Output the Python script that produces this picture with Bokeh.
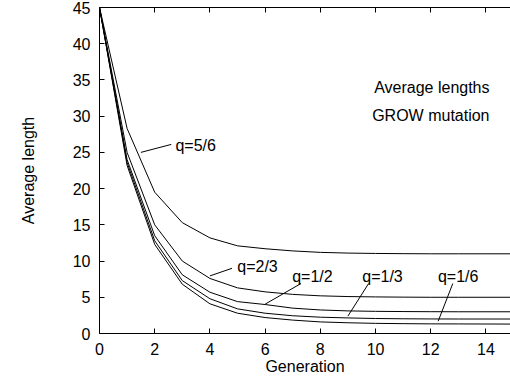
import math
from bokeh.plotting import figure
from bokeh.models import Label, LinearAxis, Range1d, FixedTicker
from bokeh.embed import file_html
from bokeh.resources import INLINE

generations = list(range(16))
q56 = [45, 28.3, 19.5, 15.3, 13.2, 12.1, 11.7, 11.4, 11.2, 11.1, 11.05, 11.02, 11.0, 11.0, 11.0, 11.0]
q23 = [45, 25.0, 15.0, 10.0, 7.6, 6.3, 5.75, 5.4, 5.2, 5.1, 5.05, 5.02, 5.0, 5.0, 5.0, 5.0]
q12 = [45, 24.0, 13.5, 8.1, 5.7, 4.4, 4.0, 3.5, 3.25, 3.12, 3.06, 3.03, 3.01, 3.0, 3.0, 3.0]
q13 = [45, 23.6, 12.8, 7.3, 4.8, 3.4, 2.8, 2.45, 2.25, 2.15, 2.07, 2.03, 2.01, 2.0, 2.0, 2.0]
q16 = [45, 23.2, 12.3, 6.8, 4.1, 2.8, 2.2, 1.85, 1.6, 1.48, 1.4, 1.36, 1.33, 1.32, 1.31, 1.3]
series = [q56, q23, q12, q13, q16]

x_ticks = [0, 2, 4, 6, 8, 10, 12, 14]
y_ticks = [0, 5, 10, 15, 20, 25, 30, 35, 40, 45]

label_texts = ["q=5/6", "q=2/3", "q=1/2", "q=1/3", "q=1/6"]
label_x = [2.75, 4.99, 6.98, 9.52, 12.26]
label_y = [25.9, 9.3, 7.8, 7.8, 7.8]
arrow_x0 = [1.5, 4.0, 6.0, 9.0, 12.27]
arrow_y0 = [25.0, 7.95, 4.05, 2.4, 1.7]
arrow_x1 = [2.6, 4.8, 7.3, 9.75, 12.8]
arrow_y1 = [26.1, 9.0, 6.9, 6.9, 6.9]

FONT = "Liberation Sans"
FS = "16px"

p = figure(width=510, height=383, output_backend="svg", toolbar_location=None,
           x_range=Range1d(0, 14.89), y_range=Range1d(0, 45),
           min_border_left=99, min_border_right=0, min_border_top=7, min_border_bottom=50,
           x_axis_type=None, y_axis_type=None)
p.grid.visible = False
p.outline_line_color = None
p.background_fill_color = "white"
p.border_fill_color = "white"

def make_axis(ticks, labels=True):
    ax = LinearAxis(ticker=FixedTicker(ticks=ticks))
    ax.major_tick_in = 5
    ax.major_tick_out = 0
    ax.minor_tick_line_color = None
    ax.axis_line_color = "black"
    ax.axis_line_width = 1
    ax.major_tick_line_color = "black"
    ax.major_label_text_font = FONT
    ax.major_label_text_font_size = FS
    ax.major_label_text_color = "black"
    ax.axis_label_text_font = FONT
    ax.axis_label_text_font_size = FS
    ax.axis_label_text_font_style = "normal"
    ax.axis_label_text_color = "black"
    if labels:
        ax.major_label_standoff = 9
    else:
        ax.major_label_overrides = {t: "" for t in ticks}
        ax.major_label_standoff = 0
    return ax

xb = make_axis(x_ticks)
xb.axis_label = "Generation"
xb.axis_label_standoff = 0
p.add_layout(xb, "below")

yl = make_axis(y_ticks)
yl.axis_label = "Average length"
yl.axis_label_standoff = 33
p.add_layout(yl, "left")

p.add_layout(make_axis(x_ticks, labels=False), "above")

for s in series:
    p.line(generations, s, line_color="black", line_width=1)

p.segment(arrow_x0, arrow_y0, arrow_x1, arrow_y1, line_color="black", line_width=1)

for t, lx, ly in zip(label_texts, label_x, label_y):
    p.add_layout(Label(x=lx, y=ly, text=t, text_font=FONT, text_font_size=FS,
                       text_align="left", text_baseline="middle", text_color="black"))

p.add_layout(Label(x=14.13, y=33.9, text="Average lengths", text_font=FONT, text_font_size=FS,
                   text_align="right", text_baseline="alphabetic", text_color="black"))
p.add_layout(Label(x=14.13, y=30.1, text="GROW mutation", text_font=FONT, text_font_size=FS,
                   text_align="right", text_baseline="alphabetic", text_color="black"))

open("out.html", "w").write(file_html(p, INLINE))
